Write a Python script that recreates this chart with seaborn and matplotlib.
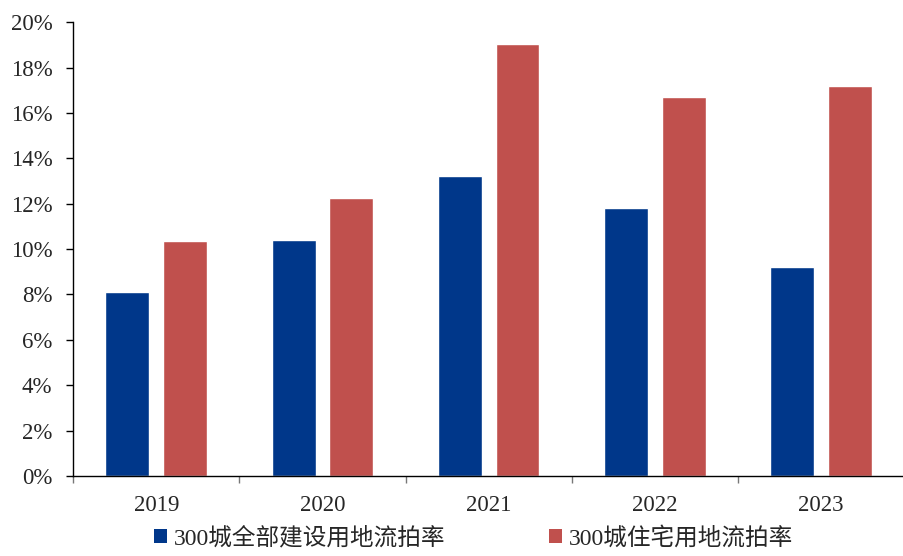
import matplotlib
matplotlib.use("Agg")
import matplotlib.pyplot as plt
import seaborn as sns
import pandas as pd
from matplotlib.ticker import FuncFormatter, FixedLocator
from matplotlib.patches import Patch

years = ["2019", "2020", "2021", "2022", "2023"]
all_land = [8.1, 10.4, 13.2, 11.8, 9.2]
residential = [10.35, 12.25, 19.05, 16.7, 17.2]
series_names = ["300城全部建设用地流拍率", "300城住宅用地流拍率"]
colors = ["#00378A", "#C0504D"]

df = pd.DataFrame({
    "year": years * 2,
    "value": all_land + residential,
    "series": [series_names[0]] * len(years) + [series_names[1]] * len(years),
})

sns.set_style("white")
plt.rcParams["font.family"] = ["Liberation Serif", "Noto Sans CJK SC"]

fig = plt.figure(figsize=(9.04, 5.56), dpi=100)
ax = fig.add_axes([0.081, 0.144, 0.919, 0.816])

sns.barplot(data=df, x="year", y="value", hue="series", palette=colors,
            width=0.695, gap=0.24, ax=ax, legend=False, saturation=1)

ax.set_ylim(0, 20)
ax.set_xlim(-0.5, len(years) - 0.5)
ax.set_yticks(range(0, 21, 2))
ax.yaxis.set_major_formatter(FuncFormatter(lambda v, _: f"{v:.0f}%"))
ax.set_xlabel("")
ax.set_ylabel("")

for side in ["top", "right"]:
    ax.spines[side].set_visible(False)
for side in ["left", "bottom"]:
    ax.spines[side].set_color("black")
    ax.spines[side].set_linewidth(1.0)

ax.tick_params(axis="y", direction="out", length=5, width=1, color="black",
               labelsize=16.5, left=True, pad=10)
# category separators on the x axis
ax.xaxis.set_minor_locator(FixedLocator([i + 0.5 for i in range(-1, len(years))]))
ax.tick_params(axis="x", which="major", length=0, labelsize=16.5, pad=14)
ax.tick_params(axis="x", which="minor", direction="out", length=5, width=1,
               color="#777777", bottom=True)

handles = [Patch(facecolor=c, edgecolor="none", label=n) for c, n in zip(colors, series_names)]
fig.legend(handles=handles, loc="lower center", bbox_to_anchor=(0.524, -0.016),
           ncol=2, frameon=False, fontsize=17, handlelength=0.55, handleheight=0.55,
           handletextpad=0.3, columnspacing=4.4, borderpad=0.15)

fig.savefig("out.png", dpi=100)
